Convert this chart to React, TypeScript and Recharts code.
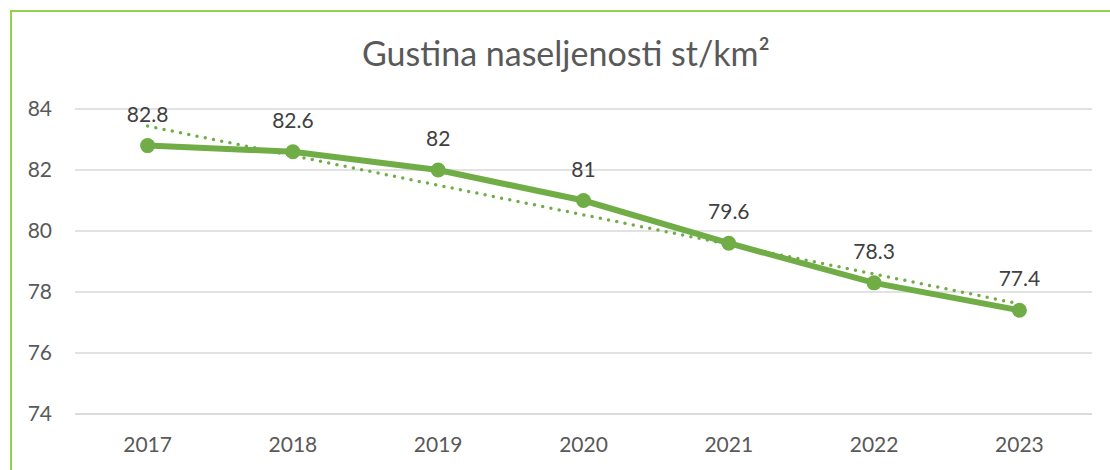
import React from "react";
import { LineChart, Line, XAxis, YAxis, CartesianGrid, LabelList } from "recharts";

const years = ["2017", "2018", "2019", "2020", "2021", "2022", "2023"];
const density = [82.8, 82.6, 82, 81, 79.6, 78.3, 77.4];
const trend = [83.44, 82.47, 81.5, 80.53, 79.56, 78.59, 77.61];
const yTicks = [74, 76, 78, 80, 82, 84];
const title = "Gustina naseljenosti st/km²";

const data = years.map((y, i) => ({ year: y, value: density[i], trend: trend[i] }));

const FONT = "Lato, 'Open Sans', sans-serif";
const GREEN = "#70AD47";

export default function App() {
  return (
    <div
      style={{
        position: "absolute",
        left: 0,
        top: 0,
        width: 1110,
        height: 470,
        overflow: "hidden",
        background: "#fff",
        fontFamily: FONT,
      }}
    >
      <div
        style={{
          position: "absolute",
          left: 10,
          top: 10,
          width: 1200,
          height: 600,
          border: "2px solid #92D050",
          boxSizing: "border-box",
        }}
      />
      <div
        style={{
          position: "absolute",
          left: 0,
          width: 1132,
          top: 33,
          textAlign: "center",
          fontSize: 34,
          color: "#595959",
          lineHeight: "40px",
        }}
      >
        {title}
      </div>
      <div style={{ position: "absolute", left: 0, top: 0 }}>
        <LineChart
          width={1110}
          height={470}
          data={data}
          margin={{ top: 109, right: 18, bottom: 26, left: 0 }}
        >
          <CartesianGrid vertical={false} stroke="#D9D9D9" strokeWidth={1.5} />
          <XAxis
            dataKey="year"
            height={30}
            axisLine={{ stroke: "#D9D9D9", strokeWidth: 1.5 }}
            tickLine={false}
            tickMargin={17.5}
            padding={{ left: 72.6, right: 72.6 }}
            tick={{ fill: "#595959", fontSize: 21, fontFamily: FONT }}
          />
          <YAxis
            width={75}
            domain={[74, 84]}
            ticks={yTicks}
            axisLine={false}
            tickLine={false}
            tickMargin={17}
            tick={{ fill: "#595959", fontSize: 21, fontFamily: FONT }}
          />
          <Line
            dataKey="trend"
            stroke={GREEN}
            strokeWidth={3.5}
            strokeDasharray="0 8.4"
            strokeLinecap="round"
            dot={false}
            activeDot={false}
            isAnimationActive={false}
          />
          <Line
            dataKey="value"
            stroke={GREEN}
            strokeWidth={6}
            dot={{ r: 7.5, fill: GREEN, stroke: GREEN, strokeWidth: 0 }}
            activeDot={false}
            isAnimationActive={false}
          >
            <LabelList
              dataKey="value"
              position="top"
              offset={24}
              fill="#404040"
              fontSize={21}
              fontFamily={FONT}
            />
          </Line>
        </LineChart>
      </div>
    </div>
  );
}
